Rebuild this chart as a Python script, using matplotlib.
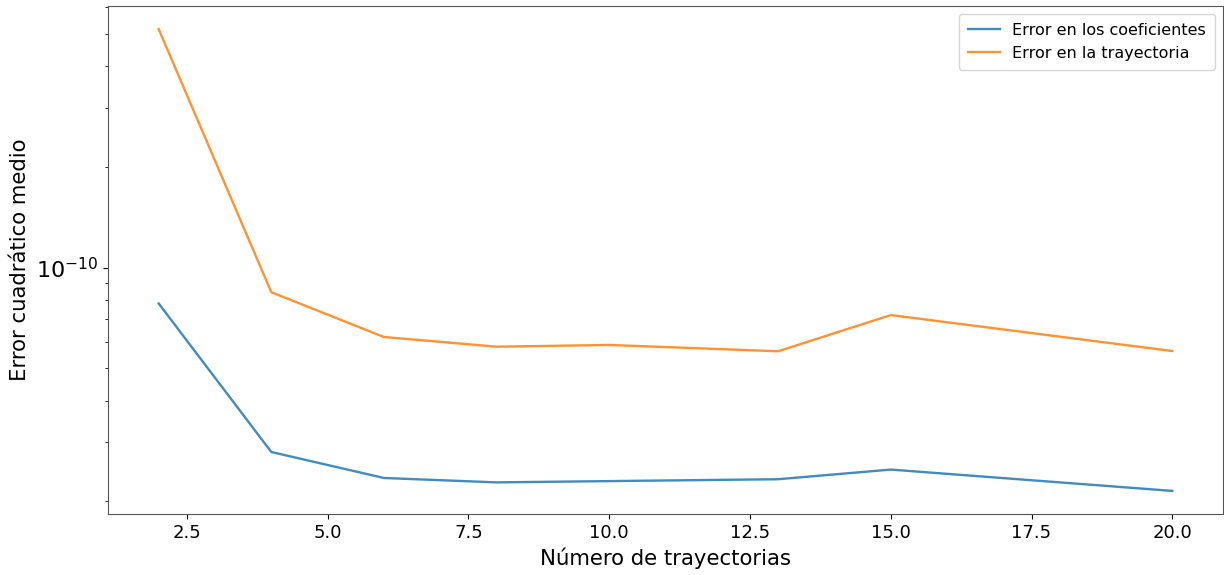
import matplotlib
matplotlib.use("Agg")
import matplotlib.pyplot as plt

n_trayectorias = [2, 4, 6, 8, 10, 13, 15, 20]
error_coeficientes = [7.81e-11, 2.81e-11, 2.35e-11, 2.28e-11, 2.30e-11, 2.33e-11, 2.49e-11, 2.15e-11]
error_trayectoria = [5.16e-10, 8.44e-11, 6.20e-11, 5.80e-11, 5.87e-11, 5.62e-11, 7.21e-11, 5.63e-11]

fig = plt.figure(figsize=(12.24, 5.75), dpi=100)
ax = fig.add_axes([108/1224, 1 - 514/575, (1223-108)/1224, (514-6)/575])
ax.plot(n_trayectorias, error_coeficientes, label="Error en los coeficientes", alpha=0.85, lw=1.7)
ax.plot(n_trayectorias, error_trayectoria, label="Error en la trayectoria", alpha=0.85, lw=1.7)
ax.set_yscale("log")
ax.set_xlabel("Número de trayectorias", fontsize=15.3)
ax.set_ylabel("Error cuadrático medio", fontsize=15.3)
ax.tick_params(axis="x", which="major", labelsize=13)
ax.tick_params(axis="y", which="major", labelsize=16)
for s in ax.spines.values():
    s.set_color("#555555")
ax.legend(fontsize=11.5, loc="upper right", borderpad=0.55)
fig.savefig("out.png", dpi=100)
